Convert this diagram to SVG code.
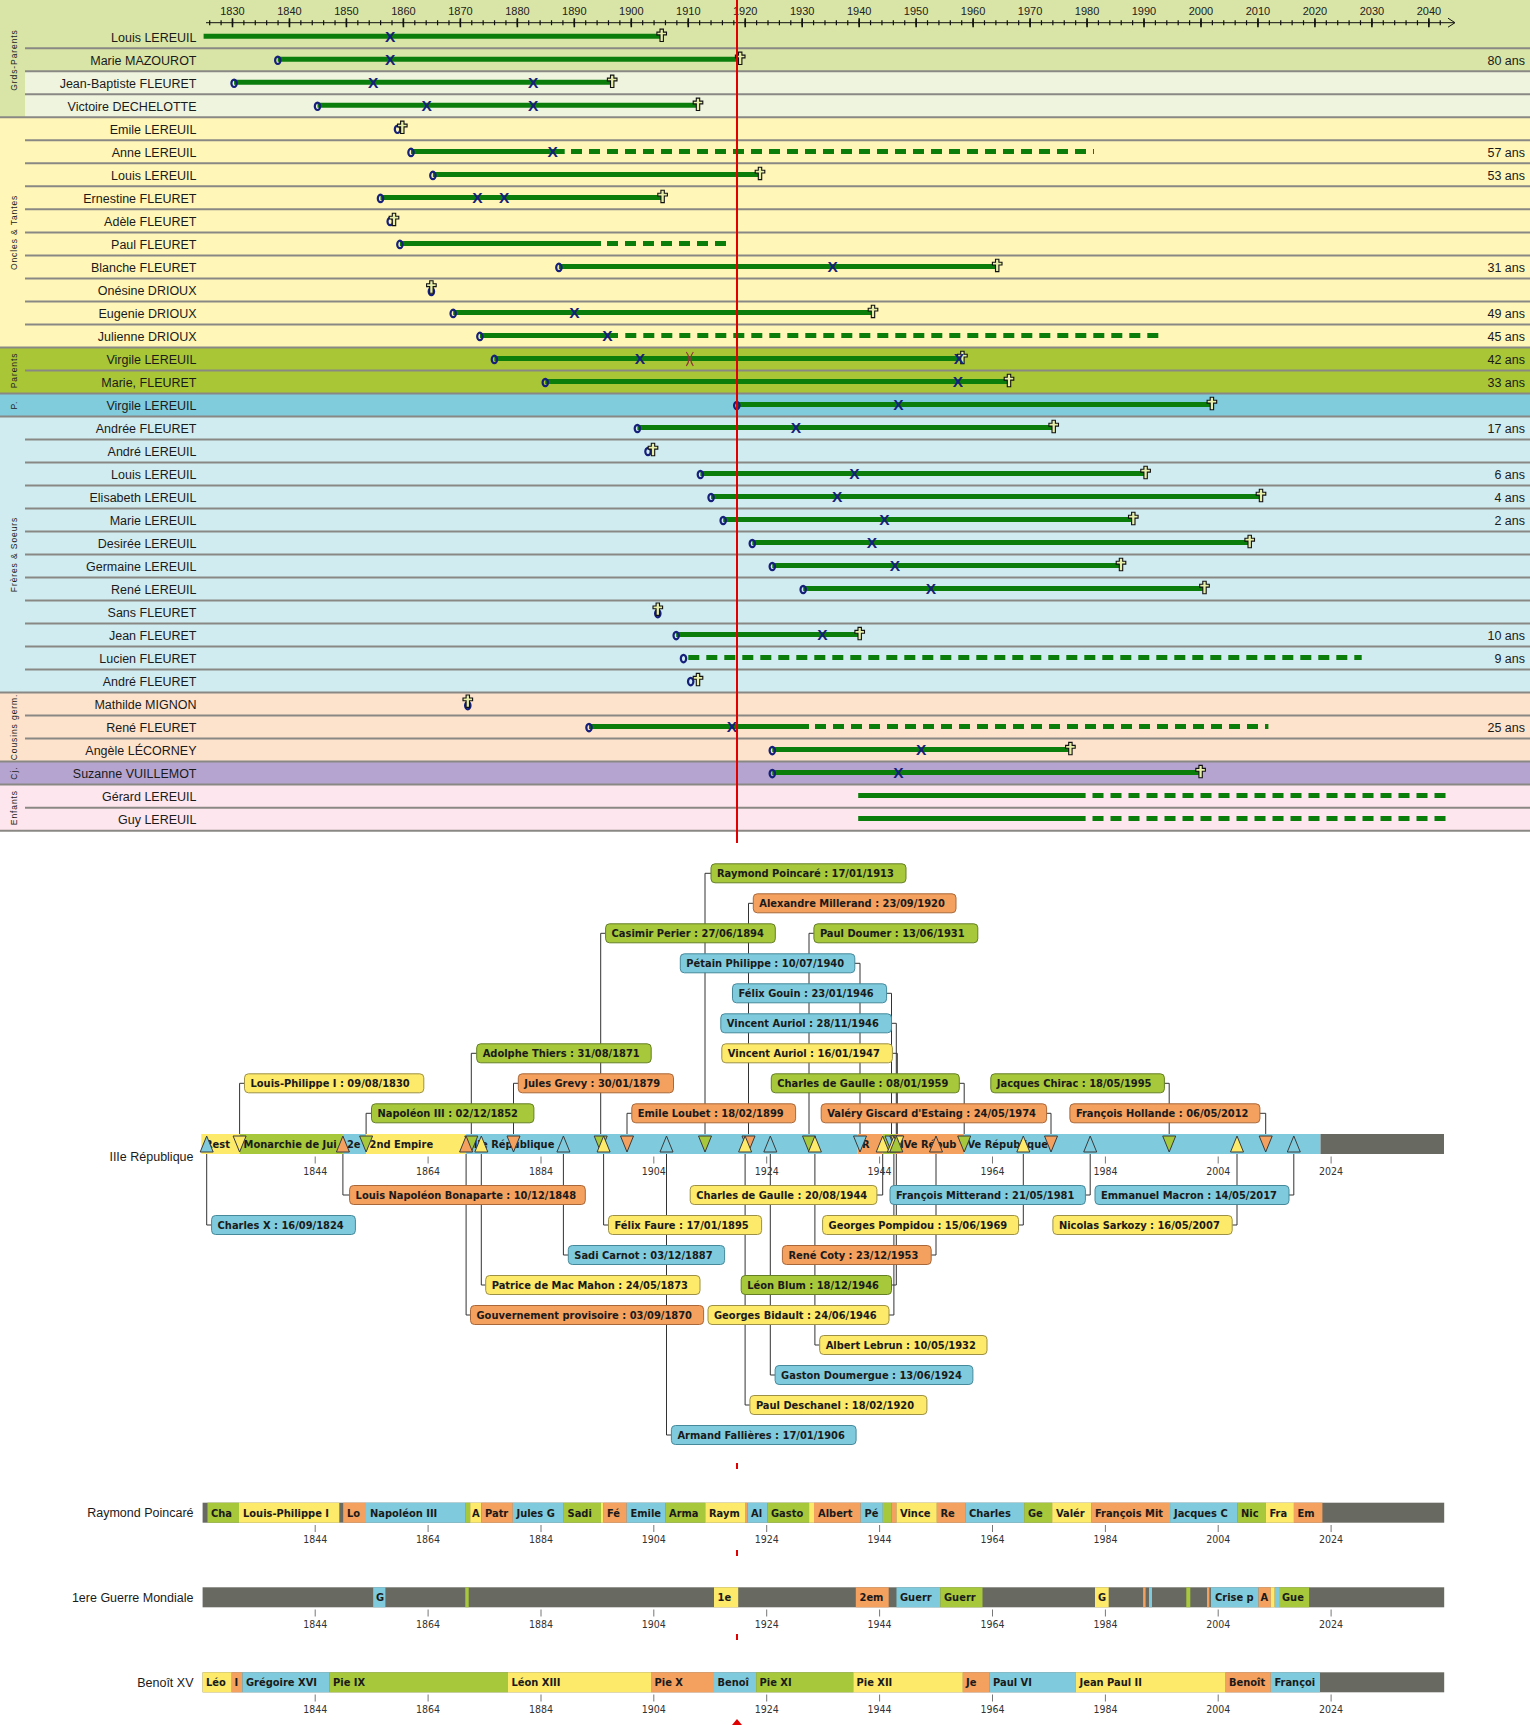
<svg xmlns="http://www.w3.org/2000/svg" width="1530" height="1725" viewBox="0 0 1530 1725">
<style>
.nm{font-family:"Liberation Sans",Arial,sans-serif;font-size:12.5px;fill:#1a1a1a;text-anchor:end}
.age{font-family:"Liberation Sans",Arial,sans-serif;font-size:12.5px;fill:#1a1a1a;text-anchor:end}
.cat{font-family:"Liberation Sans",Arial,sans-serif;font-size:8.5px;letter-spacing:0.9px;fill:#222;text-anchor:middle}
.yr{font-family:"Liberation Sans",Arial,sans-serif;font-size:11px;fill:#222;text-anchor:middle}
.xm{font-family:"Liberation Sans",Arial,sans-serif;font-size:15.5px;font-weight:bold;fill:#16207a;text-anchor:middle}
.bar{stroke:#0b7d0b;stroke-width:5;fill:none}
.dash{stroke:#0b7d0b;stroke-width:5;fill:none;stroke-dasharray:11 7}
.sep{stroke:#8a8884;stroke-width:2}
.bt{font-family:"DejaVu Sans Condensed","DejaVu Sans",sans-serif;font-stretch:condensed;font-weight:bold;font-size:11px;fill:#1a1a1a}
.tk{font-family:"DejaVu Sans Condensed","DejaVu Sans",sans-serif;font-stretch:condensed;font-size:10.5px;fill:#333;text-anchor:middle}
.tl{stroke:#777;stroke-width:1}
.lbl{font-family:"Liberation Sans",Arial,sans-serif;font-size:12.5px;fill:#1a1a1a;text-anchor:end}
.Y{fill:#fde96a}.G{fill:#a7c83b}.B{fill:#7fcbdd}.O{fill:#f4a05f}.K{fill:#686a62}
.by{fill:#fde96a;stroke:#9c9146}.bg{fill:#a7c83b;stroke:#647f25}.bb{fill:#7fcbdd;stroke:#45899b}.bo{fill:#f4a05f;stroke:#a9683a}
.box rect{stroke-width:1}
.con path{fill:none;stroke:#333;stroke-width:1}
.tri polygon{stroke:#3a3a3a;stroke-width:1}
</style>
<defs>
<path id="cross" d="M-1.7,-6.2 h3.4 v3 h3.1 v2.8 h-3.1 v6.6 h-3.4 v-6.6 h-3.1 v-2.8 h3.1 z" fill="#e6eea8" stroke="#111" stroke-width="1.1"/>
<ellipse id="birth" rx="2.7" ry="3.7" fill="none" stroke="#16207a" stroke-width="2.2"/>
</defs>

<!-- ===== Top family chart backgrounds ===== -->
<g id="backgrounds">
<rect x="0" y="0" width="1530" height="117.33" fill="#d8e5a6"/>
<rect x="25" y="71.31" width="1505" height="46.02" fill="#eff4df"/>
<rect x="0" y="117.33" width="1530" height="230.1" fill="#fff6b8"/>
<rect x="0" y="347.43" width="1530" height="46.02" fill="#a9c637"/>
<rect x="0" y="393.45" width="1530" height="23.01" fill="#80cbdc"/>
<rect x="0" y="416.46" width="1530" height="276.12" fill="#d1ecf1"/>
<rect x="0" y="692.58" width="1530" height="69.03" fill="#fde3cc"/>
<rect x="0" y="761.61" width="1530" height="23.01" fill="#b4a4cf"/>
<rect x="0" y="784.62" width="1530" height="46.02" fill="#fde6ee"/>
</g>
<g id="separators">
<line class="sep" x1="25" x2="1530" y1="48.3" y2="48.3"/>
<line class="sep" x1="25" x2="1530" y1="71.31" y2="71.31"/>
<line class="sep" x1="25" x2="1530" y1="94.32" y2="94.32"/>
<line class="sep" x1="0" x2="1530" y1="117.33" y2="117.33"/>
<line class="sep" x1="25" x2="1530" y1="140.34" y2="140.34"/>
<line class="sep" x1="25" x2="1530" y1="163.35" y2="163.35"/>
<line class="sep" x1="25" x2="1530" y1="186.36" y2="186.36"/>
<line class="sep" x1="25" x2="1530" y1="209.37" y2="209.37"/>
<line class="sep" x1="25" x2="1530" y1="232.38" y2="232.38"/>
<line class="sep" x1="25" x2="1530" y1="255.39" y2="255.39"/>
<line class="sep" x1="25" x2="1530" y1="278.4" y2="278.4"/>
<line class="sep" x1="25" x2="1530" y1="301.41" y2="301.41"/>
<line class="sep" x1="25" x2="1530" y1="324.42" y2="324.42"/>
<line class="sep" x1="0" x2="1530" y1="347.43" y2="347.43"/>
<line class="sep" x1="25" x2="1530" y1="370.44" y2="370.44"/>
<line class="sep" x1="0" x2="1530" y1="393.45" y2="393.45"/>
<line class="sep" x1="0" x2="1530" y1="416.46" y2="416.46"/>
<line class="sep" x1="25" x2="1530" y1="439.47" y2="439.47"/>
<line class="sep" x1="25" x2="1530" y1="462.48" y2="462.48"/>
<line class="sep" x1="25" x2="1530" y1="485.49" y2="485.49"/>
<line class="sep" x1="25" x2="1530" y1="508.5" y2="508.5"/>
<line class="sep" x1="25" x2="1530" y1="531.51" y2="531.51"/>
<line class="sep" x1="25" x2="1530" y1="554.52" y2="554.52"/>
<line class="sep" x1="25" x2="1530" y1="577.53" y2="577.53"/>
<line class="sep" x1="25" x2="1530" y1="600.54" y2="600.54"/>
<line class="sep" x1="25" x2="1530" y1="623.55" y2="623.55"/>
<line class="sep" x1="25" x2="1530" y1="646.56" y2="646.56"/>
<line class="sep" x1="25" x2="1530" y1="669.57" y2="669.57"/>
<line class="sep" x1="0" x2="1530" y1="692.58" y2="692.58"/>
<line class="sep" x1="25" x2="1530" y1="715.59" y2="715.59"/>
<line class="sep" x1="25" x2="1530" y1="738.6" y2="738.6"/>
<line class="sep" x1="0" x2="1530" y1="761.61" y2="761.61"/>
<line class="sep" x1="0" x2="1530" y1="784.62" y2="784.62"/>
<line class="sep" x1="25" x2="1530" y1="807.63" y2="807.63"/>
<line class="sep" x1="0" x2="1530" y1="830.64" y2="830.64"/>
</g>
<g id="categories">
<text class="cat" transform="translate(16.5,60) rotate(-90)">Grds-Parents</text>
<text class="cat" transform="translate(16.5,232.4) rotate(-90)">Oncles &amp; Tantes</text>
<text class="cat" transform="translate(16.5,370.4) rotate(-90)">Parents</text>
<text class="cat" transform="translate(16.5,405) rotate(-90)">P.</text>
<text class="cat" transform="translate(16.5,554.5) rotate(-90)">Frères &amp; Soeurs</text>
<text class="cat" transform="translate(16.5,727) rotate(-90)">Cousins germ.</text>
<text class="cat" transform="translate(16.5,773.1) rotate(-90)">Cj.</text>
<text class="cat" transform="translate(16.5,807.6) rotate(-90)">Enfants</text>
</g>

<!-- axis -->
<g id="axis">
<line x1="206" y1="22.7" x2="1454" y2="22.7" stroke="#111" stroke-width="1"/>
<line x1="209.1" y1="22.7" x2="1450" y2="22.7" stroke="#111" stroke-width="5" stroke-dasharray="1.2 10.194"/>
<line x1="231.7" y1="22.7" x2="1450" y2="22.7" stroke="#111" stroke-width="9" stroke-dasharray="1.6 55.37"/>
<path d="M1448,18.2 L1455,22.7 L1448,27.2" fill="none" stroke="#111" stroke-width="1"/>
<text class="yr" x="232.5" y="14.5">1830</text><text class="yr" x="289.5" y="14.5">1840</text><text class="yr" x="346.4" y="14.5">1850</text><text class="yr" x="403.4" y="14.5">1860</text><text class="yr" x="460.4" y="14.5">1870</text><text class="yr" x="517.4" y="14.5">1880</text><text class="yr" x="574.3" y="14.5">1890</text><text class="yr" x="631.3" y="14.5">1900</text><text class="yr" x="688.3" y="14.5">1910</text><text class="yr" x="745.2" y="14.5">1920</text><text class="yr" x="802.2" y="14.5">1930</text><text class="yr" x="859.2" y="14.5">1940</text><text class="yr" x="916.1" y="14.5">1950</text><text class="yr" x="973.1" y="14.5">1960</text><text class="yr" x="1030.1" y="14.5">1970</text><text class="yr" x="1087.1" y="14.5">1980</text><text class="yr" x="1144" y="14.5">1990</text><text class="yr" x="1201" y="14.5">2000</text><text class="yr" x="1258" y="14.5">2010</text><text class="yr" x="1314.9" y="14.5">2020</text><text class="yr" x="1371.9" y="14.5">2030</text><text class="yr" x="1428.9" y="14.5">2040</text>
</g>

<!-- rows -->
<g id="row-1"><text class="nm" x="196.5" y="41.8">Louis LEREUIL</text><line class="bar" x1="203.6" x2="661.7" y1="36.3" y2="36.3"/><text class="xm" x="390.2" y="41.8">X</text><use href="#cross" x="661.7" y="35.3"/></g>
<g id="row-2"><text class="nm" x="196.5" y="64.8">Marie MAZOUROT</text><line class="bar" x1="277.8" x2="740.2" y1="59.3" y2="59.3"/><use href="#birth" x="277.8" y="60.3"/><text class="xm" x="390.2" y="64.8">X</text><use href="#cross" x="740.2" y="58.3"/><text class="age" x="1525" y="64.8">80 ans</text></g>
<g id="row-3"><text class="nm" x="196.5" y="87.8">Jean-Baptiste FLEURET</text><line class="bar" x1="234.1" x2="612.2" y1="82.3" y2="82.3"/><use href="#birth" x="234.1" y="83.3"/><text class="xm" x="373.2" y="87.8">X</text><text class="xm" x="533.2" y="87.8">X</text><use href="#cross" x="612.2" y="81.3"/></g>
<g id="row-4"><text class="nm" x="196.5" y="110.8">Victoire DECHELOTTE</text><line class="bar" x1="317.5" x2="698" y1="105.3" y2="105.3"/><use href="#birth" x="317.5" y="106.3"/><text class="xm" x="426.6" y="110.8">X</text><text class="xm" x="533.2" y="110.8">X</text><use href="#cross" x="698" y="104.3"/></g>
<g id="row-5"><text class="nm" x="196.5" y="133.8">Emile LEREUIL</text><use href="#birth" x="397.5" y="129.3"/><use href="#cross" x="402.3" y="127.3"/></g>
<g id="row-6"><text class="nm" x="196.5" y="156.9">Anne LEREUIL</text><line class="bar" x1="411" x2="564.7" y1="151.4" y2="151.4"/><line class="dash" x1="571" x2="1094" y1="151.4" y2="151.4"/><use href="#birth" x="411" y="152.4"/><text class="xm" x="552.6" y="156.9">X</text><text class="age" x="1525" y="156.9">57 ans</text></g>
<g id="row-7"><text class="nm" x="196.5" y="179.9">Louis LEREUIL</text><line class="bar" x1="432.9" x2="760" y1="174.4" y2="174.4"/><use href="#birth" x="432.9" y="175.4"/><use href="#cross" x="760" y="173.4"/><text class="age" x="1525" y="179.9">53 ans</text></g>
<g id="row-8"><text class="nm" x="196.5" y="202.9">Ernestine FLEURET</text><line class="bar" x1="380.5" x2="662.6" y1="197.4" y2="197.4"/><use href="#birth" x="380.5" y="198.4"/><text class="xm" x="477.5" y="202.9">X</text><text class="xm" x="504.1" y="202.9">X</text><use href="#cross" x="662.6" y="196.4"/></g>
<g id="row-9"><text class="nm" x="196.5" y="225.9">Adèle FLEURET</text><use href="#birth" x="390.2" y="221.4"/><use href="#cross" x="394" y="219.4"/></g>
<g id="row-10"><text class="nm" x="196.5" y="248.9">Paul FLEURET</text><line class="bar" x1="399.9" x2="601" y1="243.4" y2="243.4"/><line class="dash" x1="607" x2="727" y1="243.4" y2="243.4"/><use href="#birth" x="399.9" y="244.4"/></g>
<g id="row-11"><text class="nm" x="196.5" y="271.9">Blanche FLEURET</text><line class="bar" x1="558.9" x2="997.2" y1="266.4" y2="266.4"/><use href="#birth" x="558.9" y="267.4"/><text class="xm" x="832.7" y="271.9">X</text><use href="#cross" x="997.2" y="265.4"/><text class="age" x="1525" y="271.9">31 ans</text></g>
<g id="row-12"><text class="nm" x="196.5" y="294.9">Onésine DRIOUX</text><use href="#birth" x="431.4" y="291.4"/><use href="#cross" x="431.4" y="287"/></g>
<g id="row-13"><text class="nm" x="196.5" y="317.9">Eugenie DRIOUX</text><line class="bar" x1="453.2" x2="873" y1="312.4" y2="312.4"/><use href="#birth" x="453.2" y="313.4"/><text class="xm" x="574.4" y="317.9">X</text><use href="#cross" x="873" y="311.4"/><text class="age" x="1525" y="317.9">49 ans</text></g>
<g id="row-14"><text class="nm" x="196.5" y="340.9">Julienne DRIOUX</text><line class="bar" x1="479.9" x2="618" y1="335.4" y2="335.4"/><line class="dash" x1="625.3" x2="1160.3" y1="335.4" y2="335.4"/><use href="#birth" x="479.9" y="336.4"/><text class="xm" x="607.4" y="340.9">X</text><text class="age" x="1525" y="340.9">45 ans</text></g>
<g id="row-15"><text class="nm" x="196.5" y="363.9">Virgile LEREUIL</text><line class="bar" x1="494.4" x2="962.4" y1="358.4" y2="358.4"/><use href="#birth" x="494.4" y="359.4"/><text class="xm" x="639.8" y="363.9">X</text><path d="M686.3,352 Q691.5,358.5 686.3,366 M693.3,352 Q688.1,358.5 693.3,366" fill="none" stroke="#8e3838" stroke-width="1.2"/><use href="#cross" x="962.4" y="357.4"/><text class="xm" x="959" y="363.9">X</text><text class="age" x="1525" y="363.9">42 ans</text></g>
<g id="row-16"><text class="nm" x="196.5" y="387">Marie, FLEURET</text><line class="bar" x1="545.3" x2="1009" y1="381.5" y2="381.5"/><use href="#birth" x="545.3" y="382.5"/><text class="xm" x="958" y="387">X</text><use href="#cross" x="1009" y="380.5"/><text class="age" x="1525" y="387">33 ans</text></g>
<g id="row-17"><text class="nm" x="196.5" y="410">Virgile LEREUIL</text><line class="bar" x1="736.8" x2="1211.9" y1="404.5" y2="404.5"/><use href="#birth" x="736.8" y="405.5"/><text class="xm" x="898.5" y="410">X</text><use href="#cross" x="1211.9" y="403.5"/></g>
<g id="row-18"><text class="nm" x="196.5" y="433">Andrée FLEURET</text><line class="bar" x1="637.4" x2="1053.7" y1="427.5" y2="427.5"/><use href="#birth" x="637.4" y="428.5"/><text class="xm" x="795.9" y="433">X</text><use href="#cross" x="1053.7" y="426.5"/><text class="age" x="1525" y="433">17 ans</text></g>
<g id="row-19"><text class="nm" x="196.5" y="456">André LEREUIL</text><use href="#birth" x="648" y="451.5"/><use href="#cross" x="653" y="449.5"/></g>
<g id="row-20"><text class="nm" x="196.5" y="479">Louis LEREUIL</text><line class="bar" x1="700.4" x2="1145.6" y1="473.5" y2="473.5"/><use href="#birth" x="700.4" y="474.5"/><text class="xm" x="854.3" y="479">X</text><use href="#cross" x="1145.6" y="472.5"/><text class="age" x="1525" y="479">6 ans</text></g>
<g id="row-21"><text class="nm" x="196.5" y="502">Elisabeth LEREUIL</text><line class="bar" x1="711.1" x2="1261" y1="496.5" y2="496.5"/><use href="#birth" x="711.1" y="497.5"/><text class="xm" x="837.1" y="502">X</text><use href="#cross" x="1261" y="495.5"/><text class="age" x="1525" y="502">4 ans</text></g>
<g id="row-22"><text class="nm" x="196.5" y="525">Marie LEREUIL</text><line class="bar" x1="723.2" x2="1133.3" y1="519.5" y2="519.5"/><use href="#birth" x="723.2" y="520.5"/><text class="xm" x="884.3" y="525">X</text><use href="#cross" x="1133.3" y="518.5"/><text class="age" x="1525" y="525">2 ans</text></g>
<g id="row-23"><text class="nm" x="196.5" y="548">Desirée LEREUIL</text><line class="bar" x1="752.3" x2="1249.7" y1="542.5" y2="542.5"/><use href="#birth" x="752.3" y="543.5"/><text class="xm" x="872" y="548">X</text><use href="#cross" x="1249.7" y="541.5"/></g>
<g id="row-24"><text class="nm" x="196.5" y="571">Germaine LEREUIL</text><line class="bar" x1="772.3" x2="1121" y1="565.5" y2="565.5"/><use href="#birth" x="772.3" y="566.5"/><text class="xm" x="895" y="571">X</text><use href="#cross" x="1121" y="564.5"/></g>
<g id="row-25"><text class="nm" x="196.5" y="594">René LEREUIL</text><line class="bar" x1="803.2" x2="1204.5" y1="588.5" y2="588.5"/><use href="#birth" x="803.2" y="589.5"/><text class="xm" x="930.9" y="594">X</text><use href="#cross" x="1204.5" y="587.5"/></g>
<g id="row-26"><text class="nm" x="196.5" y="617.1">Sans FLEURET</text><use href="#birth" x="657.8" y="613.6"/><use href="#cross" x="657.8" y="609.2"/></g>
<g id="row-27"><text class="nm" x="196.5" y="640.1">Jean FLEURET</text><line class="bar" x1="676.2" x2="859.7" y1="634.6" y2="634.6"/><use href="#birth" x="676.2" y="635.6"/><text class="xm" x="822.4" y="640.1">X</text><use href="#cross" x="859.7" y="633.6"/><text class="age" x="1525" y="640.1">10 ans</text></g>
<g id="row-28"><text class="nm" x="196.5" y="663.1">Lucien FLEURET</text><line class="dash" x1="688.3" x2="1361.7" y1="657.6" y2="657.6"/><use href="#birth" x="683.5" y="658.6"/><text class="age" x="1525" y="663.1">9 ans</text></g>
<g id="row-29"><text class="nm" x="196.5" y="686.1">André FLEURET</text><use href="#birth" x="690.7" y="681.6"/><use href="#cross" x="698" y="679.6"/></g>
<g id="row-30"><text class="nm" x="196.5" y="709.1">Mathilde MIGNON</text><use href="#birth" x="467.8" y="705.6"/><use href="#cross" x="467.8" y="701.2"/></g>
<g id="row-31"><text class="nm" x="196.5" y="732.1">René FLEURET</text><line class="bar" x1="589" x2="809" y1="726.6" y2="726.6"/><line class="dash" x1="815" x2="1268.4" y1="726.6" y2="726.6"/><use href="#birth" x="589" y="727.6"/><text class="xm" x="732" y="732.1">X</text><text class="age" x="1525" y="732.1">25 ans</text></g>
<g id="row-32"><text class="nm" x="196.5" y="755.1">Angèle LÉCORNEY</text><line class="bar" x1="772.3" x2="1070.4" y1="749.6" y2="749.6"/><use href="#birth" x="772.3" y="750.6"/><text class="xm" x="921.1" y="755.1">X</text><use href="#cross" x="1070.4" y="748.6"/></g>
<g id="row-33"><text class="nm" x="196.5" y="778.1">Suzanne VUILLEMOT</text><line class="bar" x1="772.3" x2="1200.6" y1="772.6" y2="772.6"/><use href="#birth" x="772.3" y="773.6"/><text class="xm" x="898.5" y="778.1">X</text><use href="#cross" x="1200.6" y="771.6"/></g>
<g id="row-34"><text class="nm" x="196.5" y="801.1">Gérard LEREUIL</text><line class="bar" x1="858.2" x2="1085.6" y1="795.6" y2="795.6"/><line class="dash" x1="1092.5" x2="1446.2" y1="795.6" y2="795.6"/></g>
<g id="row-35"><text class="nm" x="196.5" y="824.1">Guy LEREUIL</text><line class="bar" x1="858.2" x2="1085.6" y1="818.6" y2="818.6"/><line class="dash" x1="1092.5" x2="1446.2" y1="818.6" y2="818.6"/></g>

<line id="today" x1="737" y1="0" x2="737" y2="843" stroke="#e00000" stroke-width="2"/>

<!-- ===== IIIe République chart ===== -->
<g id="connectors" class="con">
<path d="M705,1134V873.3H711"/>
<path d="M748.5,1134V903.3H753.3"/>
<path d="M600.7,1134V933.3H605.6"/>
<path d="M809,1134V933.3H813.9"/>
<path d="M860,1134V963.3H854.8"/>
<path d="M891.5,1134V993.3H886.6"/>
<path d="M896.3,1134V1023.3H891.5"/>
<path d="M471.3,1134V1053.3H476.7"/>
<path d="M897.3,1134V1053.3H892.4"/>
<path d="M239.6,1134V1083.3H244.5"/>
<path d="M513.5,1134V1083.3H518.3"/>
<path d="M964.2,1134V1083.3H959.3"/>
<path d="M1169.2,1134V1083.3H1164.4"/>
<path d="M366.1,1134V1113.3H371.5"/>
<path d="M627,1134V1113.3H631.8"/>
<path d="M1051,1134V1113.3H1046.6"/>
<path d="M1265.7,1134V1113.3H1259.9"/>
<path d="M342.9,1154V1195H349.6"/>
<path d="M882.7,1154V1195H876.9"/>
<path d="M1090.2,1154V1195H1085.4"/>
<path d="M1293.8,1154V1195H1289"/>
<path d="M206.7,1154V1225H211.6"/>
<path d="M603.6,1154V1225H608.5"/>
<path d="M1023.3,1154V1225H1018.5"/>
<path d="M1237,1154V1225H1232.2"/>
<path d="M563.4,1154V1255H568.3"/>
<path d="M936,1154V1255H931.2"/>
<path d="M481.3,1154V1285H485.7"/>
<path d="M896.3,1154V1285H891.5"/>
<path d="M466.1,1154V1315H470.5"/>
<path d="M893.9,1154V1315H889"/>
<path d="M814.9,1154V1345H819.7"/>
<path d="M770.3,1154V1375H775.1"/>
<path d="M745.1,1154V1405H749.9"/>
<path d="M666.5,1154V1435H671.4"/>
</g>

<g id="band-iii">
<text class="lbl" x="193.5" y="1160.5">IIIe République</text>
<rect class="Y" x="201.3" y="1134" width="38.3" height="20"/>
<rect class="G" x="239.6" y="1134" width="103.3" height="20"/>
<rect class="B" x="342.9" y="1134" width="23.2" height="20"/>
<rect class="Y" x="366.1" y="1134" width="100" height="20"/>
<rect class="B" x="466.1" y="1134" width="391.5" height="20"/>
<rect class="O" x="857.6" y="1134" width="25.1" height="20"/>
<rect class="G" x="882.7" y="1134" width="13.3" height="20"/>
<rect class="O" x="896" y="1134" width="68.2" height="20"/>
<rect class="B" x="964.2" y="1134" width="356.3" height="20"/>
<rect class="K" x="1320.5" y="1134" width="123.5" height="20"/>
<text class="bt" x="205" y="1148">Rest</text>
<text class="bt" x="243.6" y="1148">Monarchie de Jui</text>
<text class="bt" x="346.9" y="1148">2e</text>
<text class="bt" x="369.5" y="1148">2nd Empire</text>
<text class="bt" x="470" y="1148">IIIe République</text>
<text class="bt" x="862" y="1148">R</text>
<text class="bt" x="900" y="1148">IVe Répub</text>
<text class="bt" x="967.5" y="1148">Ve République</text>
</g>
<g id="triangles" class="tri">
<polygon class="Y" points="233.1,1136 246.1,1136 239.6,1152"/>
<polygon class="G" points="359.6,1136 372.6,1136 366.1,1152"/>
<polygon class="G" points="464.8,1136 477.8,1136 471.3,1152"/>
<polygon class="O" points="507,1136 520,1136 513.5,1152"/>
<polygon class="G" points="594.2,1136 607.2,1136 600.7,1152"/>
<polygon class="O" points="620.5,1136 633.5,1136 627,1152"/>
<polygon class="G" points="698.5,1136 711.5,1136 705,1152"/>
<polygon class="O" points="742,1136 755,1136 748.5,1152"/>
<polygon class="G" points="802.5,1136 815.5,1136 809,1152"/>
<polygon class="B" points="853.5,1136 866.5,1136 860,1152"/>
<polygon class="B" points="885,1136 898,1136 891.5,1152"/>
<polygon class="B" points="889.8,1136 902.8,1136 896.3,1152"/>
<polygon class="Y" points="890.8,1136 903.8,1136 897.3,1152"/>
<polygon class="G" points="957.7,1136 970.7,1136 964.2,1152"/>
<polygon class="O" points="1044.5,1136 1057.5,1136 1051,1152"/>
<polygon class="G" points="1162.7,1136 1175.7,1136 1169.2,1152"/>
<polygon class="O" points="1259.2,1136 1272.2,1136 1265.7,1152"/>
<polygon class="B" points="200.2,1152 213.2,1152 206.7,1136"/>
<polygon class="O" points="336.4,1152 349.4,1152 342.9,1136"/>
<polygon class="O" points="459.6,1152 472.6,1152 466.1,1136"/>
<polygon class="Y" points="474.8,1152 487.8,1152 481.3,1136"/>
<polygon class="B" points="556.9,1152 569.9,1152 563.4,1136"/>
<polygon class="Y" points="597.1,1152 610.1,1152 603.6,1136"/>
<polygon class="B" points="660,1152 673,1152 666.5,1136"/>
<polygon class="Y" points="738.6,1152 751.6,1152 745.1,1136"/>
<polygon class="B" points="763.8,1152 776.8,1152 770.3,1136"/>
<polygon class="Y" points="808.4,1152 821.4,1152 814.9,1136"/>
<polygon class="Y" points="876.2,1152 889.2,1152 882.7,1136"/>
<polygon class="Y" points="887.4,1152 900.4,1152 893.9,1136"/>
<polygon class="G" points="889.8,1152 902.8,1152 896.3,1136"/>
<polygon class="O" points="929.5,1152 942.5,1152 936,1136"/>
<polygon class="Y" points="1016.8,1152 1029.8,1152 1023.3,1136"/>
<polygon class="B" points="1083.7,1152 1096.7,1152 1090.2,1136"/>
<polygon class="Y" points="1230.5,1152 1243.5,1152 1237,1136"/>
<polygon class="B" points="1287.3,1152 1300.3,1152 1293.8,1136"/>
</g>
<g id="ticks-iii">
<path class="tl" d="M315.2,1156.5v7M428.1,1156.5v7M541,1156.5v7M653.8,1156.5v7M766.7,1156.5v7M879.6,1156.5v7M992.5,1156.5v7M1105.4,1156.5v7M1218.2,1156.5v7M1331.1,1156.5v7"/>
<text class="tk" x="315.2" y="1175">1844</text><text class="tk" x="428.1" y="1175">1864</text><text class="tk" x="541" y="1175">1884</text><text class="tk" x="653.8" y="1175">1904</text><text class="tk" x="766.7" y="1175">1924</text><text class="tk" x="879.6" y="1175">1944</text><text class="tk" x="992.5" y="1175">1964</text><text class="tk" x="1105.4" y="1175">1984</text><text class="tk" x="1218.2" y="1175">2004</text><text class="tk" x="1331.1" y="1175">2024</text>
</g>

<g id="labels" class="box">
<g id="p-poincare"><rect class="bg" x="711" y="863.8" width="195" height="19" rx="4"/><text class="bt" x="717" y="877.3">Raymond Poincaré : 17/01/1913</text></g>
<g id="p-millerand"><rect class="bo" x="753.3" y="893.8" width="202.7" height="19" rx="4"/><text class="bt" x="759.3" y="907.3">Alexandre Millerand : 23/09/1920</text></g>
<g id="p-perier"><rect class="bg" x="605.6" y="923.8" width="169.7" height="19" rx="4"/><text class="bt" x="611.6" y="937.3">Casimir Perier : 27/06/1894</text></g>
<g id="p-doumer"><rect class="bg" x="813.9" y="923.8" width="163.9" height="19" rx="4"/><text class="bt" x="819.9" y="937.3">Paul Doumer : 13/06/1931</text></g>
<g id="p-petain"><rect class="bb" x="680.3" y="953.8" width="174.5" height="19" rx="4"/><text class="bt" x="686.3" y="967.3">Pétain Philippe : 10/07/1940</text></g>
<g id="p-gouin"><rect class="bb" x="732.5" y="983.8" width="154.1" height="19" rx="4"/><text class="bt" x="738.5" y="997.3">Félix Gouin : 23/01/1946</text></g>
<g id="p-auriol1"><rect class="bb" x="720.8" y="1013.8" width="170.7" height="19" rx="4"/><text class="bt" x="726.8" y="1027.3">Vincent Auriol : 28/11/1946</text></g>
<g id="p-thiers"><rect class="bg" x="476.7" y="1043.8" width="174.5" height="19" rx="4"/><text class="bt" x="482.7" y="1057.3">Adolphe Thiers : 31/08/1871</text></g>
<g id="p-auriol2"><rect class="by" x="721.8" y="1043.8" width="170.6" height="19" rx="4"/><text class="bt" x="727.8" y="1057.3">Vincent Auriol : 16/01/1947</text></g>
<g id="p-louisphilippe"><rect class="by" x="244.5" y="1073.8" width="179.3" height="19" rx="4"/><text class="bt" x="250.5" y="1087.3">Louis-Philippe I : 09/08/1830</text></g>
<g id="p-grevy"><rect class="bo" x="518.3" y="1073.8" width="155.2" height="19" rx="4"/><text class="bt" x="524.3" y="1087.3">Jules Grevy : 30/01/1879</text></g>
<g id="p-degaulle2"><rect class="bg" x="771.3" y="1073.8" width="188" height="19" rx="4"/><text class="bt" x="777.3" y="1087.3">Charles de Gaulle : 08/01/1959</text></g>
<g id="p-chirac"><rect class="bg" x="990.8" y="1073.8" width="173.6" height="19" rx="4"/><text class="bt" x="996.8" y="1087.3">Jacques Chirac : 18/05/1995</text></g>
<g id="p-napoleon3"><rect class="bg" x="371.5" y="1103.8" width="162.4" height="19" rx="4"/><text class="bt" x="377.5" y="1117.3">Napoléon III : 02/12/1852</text></g>
<g id="p-loubet"><rect class="bo" x="631.8" y="1103.8" width="163.8" height="19" rx="4"/><text class="bt" x="637.8" y="1117.3">Emile Loubet : 18/02/1899</text></g>
<g id="p-giscard"><rect class="bo" x="821.2" y="1103.8" width="225.4" height="19" rx="4"/><text class="bt" x="827.2" y="1117.3">Valéry Giscard d'Estaing : 24/05/1974</text></g>
<g id="p-hollande"><rect class="bo" x="1069.9" y="1103.8" width="190" height="19" rx="4"/><text class="bt" x="1075.9" y="1117.3">François Hollande : 06/05/2012</text></g>
<g id="p-lnb"><rect class="bo" x="349.6" y="1185.5" width="235.7" height="19" rx="4"/><text class="bt" x="355.6" y="1199">Louis Napoléon Bonaparte : 10/12/1848</text></g>
<g id="p-degaulle1"><rect class="by" x="690.2" y="1185.5" width="186.7" height="19" rx="4"/><text class="bt" x="696.2" y="1199">Charles de Gaulle : 20/08/1944</text></g>
<g id="p-mitterand"><rect class="bb" x="890" y="1185.5" width="195.4" height="19" rx="4"/><text class="bt" x="896" y="1199">François Mitterand : 21/05/1981</text></g>
<g id="p-macron"><rect class="bb" x="1095" y="1185.5" width="194" height="19" rx="4"/><text class="bt" x="1101" y="1199">Emmanuel Macron : 14/05/2017</text></g>
<g id="p-charlesx"><rect class="bb" x="211.6" y="1215.5" width="143.8" height="19" rx="4"/><text class="bt" x="217.6" y="1229">Charles X : 16/09/1824</text></g>
<g id="p-faure"><rect class="by" x="608.5" y="1215.5" width="153.1" height="19" rx="4"/><text class="bt" x="614.5" y="1229">Félix Faure : 17/01/1895</text></g>
<g id="p-pompidou"><rect class="by" x="822.6" y="1215.5" width="195.9" height="19" rx="4"/><text class="bt" x="828.6" y="1229">Georges Pompidou : 15/06/1969</text></g>
<g id="p-sarkozy"><rect class="by" x="1052.9" y="1215.5" width="179.3" height="19" rx="4"/><text class="bt" x="1058.9" y="1229">Nicolas Sarkozy : 16/05/2007</text></g>
<g id="p-carnot"><rect class="bb" x="568.3" y="1245.5" width="156.3" height="19" rx="4"/><text class="bt" x="574.3" y="1259">Sadi Carnot : 03/12/1887</text></g>
<g id="p-coty"><rect class="bo" x="782.4" y="1245.5" width="148.8" height="19" rx="4"/><text class="bt" x="788.4" y="1259">René Coty : 23/12/1953</text></g>
<g id="p-macmahon"><rect class="by" x="485.7" y="1275.5" width="214.3" height="19" rx="4"/><text class="bt" x="491.7" y="1289">Patrice de Mac Mahon : 24/05/1873</text></g>
<g id="p-blum"><rect class="bg" x="741.2" y="1275.5" width="150.3" height="19" rx="4"/><text class="bt" x="747.2" y="1289">Léon Blum : 18/12/1946</text></g>
<g id="p-gouvprov"><rect class="bo" x="470.5" y="1305.5" width="233.1" height="19" rx="4"/><text class="bt" x="476.5" y="1319">Gouvernement provisoire : 03/09/1870</text></g>
<g id="p-bidault"><rect class="by" x="708" y="1305.5" width="181" height="19" rx="4"/><text class="bt" x="714" y="1319">Georges Bidault : 24/06/1946</text></g>
<g id="p-lebrun"><rect class="by" x="819.7" y="1335.5" width="167.3" height="19" rx="4"/><text class="bt" x="825.7" y="1349">Albert Lebrun : 10/05/1932</text></g>
<g id="p-doumergue"><rect class="bb" x="775.1" y="1365.5" width="197.8" height="19" rx="4"/><text class="bt" x="781.1" y="1379">Gaston Doumergue : 13/06/1924</text></g>
<g id="p-deschanel"><rect class="by" x="749.9" y="1395.5" width="177" height="19" rx="4"/><text class="bt" x="755.9" y="1409">Paul Deschanel : 18/02/1920</text></g>
<g id="p-fallieres"><rect class="bb" x="671.4" y="1425.5" width="184.7" height="19" rx="4"/><text class="bt" x="677.4" y="1439">Armand Fallières : 17/01/1906</text></g>
</g>

<!-- ===== Bottom bands ===== -->
<g id="band-presidents">
<text class="lbl" x="193.5" y="1517">Raymond Poincaré</text>
<rect class="K" x="202.6" y="1502.7" width="1241.6" height="20"/>
<rect class="G" x="207.5" y="1502.7" width="31.5" height="20"/>
<rect class="Y" x="239" y="1502.7" width="100.3" height="20"/>
<rect class="O" x="343.2" y="1502.7" width="22.8" height="20"/>
<rect class="B" x="366" y="1502.7" width="99.3" height="20"/>
<rect class="G" x="465.3" y="1502.7" width="4.9" height="20"/>
<rect class="Y" x="470.2" y="1502.7" width="11.1" height="20"/>
<rect class="O" x="481.3" y="1502.7" width="31.5" height="20"/>
<rect class="B" x="512.8" y="1502.7" width="50.9" height="20"/>
<rect class="G" x="563.7" y="1502.7" width="37.3" height="20"/>
<rect class="Y" x="601" y="1502.7" width="2.5" height="20"/>
<rect class="O" x="603.5" y="1502.7" width="23.2" height="20"/>
<rect class="B" x="626.7" y="1502.7" width="38.8" height="20"/>
<rect class="G" x="665.5" y="1502.7" width="39.8" height="20"/>
<rect class="Y" x="705.3" y="1502.7" width="39.7" height="20"/>
<rect class="O" x="745" y="1502.7" width="2.4" height="20"/>
<rect class="B" x="747.4" y="1502.7" width="20" height="20"/>
<rect class="G" x="767.4" y="1502.7" width="41.7" height="20"/>
<rect class="Y" x="809.1" y="1502.7" width="4.9" height="20"/>
<rect class="O" x="814" y="1502.7" width="46.7" height="20"/>
<rect class="B" x="860.7" y="1502.7" width="22.1" height="20"/>
<rect class="G" x="882.8" y="1502.7" width="8.8" height="20"/>
<rect class="O" x="891.6" y="1502.7" width="4.9" height="20"/>
<rect class="Y" x="896.5" y="1502.7" width="40.3" height="20"/>
<rect class="O" x="936.8" y="1502.7" width="28.5" height="20"/>
<rect class="B" x="965.3" y="1502.7" width="58.9" height="20"/>
<rect class="G" x="1024.2" y="1502.7" width="28" height="20"/>
<rect class="Y" x="1052.2" y="1502.7" width="39.3" height="20"/>
<rect class="O" x="1091.5" y="1502.7" width="78.6" height="20"/>
<rect class="B" x="1170.1" y="1502.7" width="67.3" height="20"/>
<rect class="G" x="1237.4" y="1502.7" width="28.5" height="20"/>
<rect class="Y" x="1265.9" y="1502.7" width="28" height="20"/>
<rect class="O" x="1293.9" y="1502.7" width="28.5" height="20"/>
<text class="bt" x="211" y="1516.7">Cha</text>
<text class="bt" x="243" y="1516.7">Louis-Philippe I</text>
<text class="bt" x="347" y="1516.7">Lo</text>
<text class="bt" x="370" y="1516.7">Napoléon III</text>
<text class="bt" x="472" y="1516.7">A</text>
<text class="bt" x="485" y="1516.7">Patr</text>
<text class="bt" x="516.5" y="1516.7">Jules G</text>
<text class="bt" x="567.5" y="1516.7">Sadi</text>
<text class="bt" x="607" y="1516.7">Fé</text>
<text class="bt" x="630.5" y="1516.7">Emile</text>
<text class="bt" x="669" y="1516.7">Arma</text>
<text class="bt" x="709" y="1516.7">Raym</text>
<text class="bt" x="751" y="1516.7">Al</text>
<text class="bt" x="771" y="1516.7">Gasto</text>
<text class="bt" x="818" y="1516.7">Albert</text>
<text class="bt" x="864.5" y="1516.7">Pé</text>
<text class="bt" x="900" y="1516.7">Vince</text>
<text class="bt" x="940.5" y="1516.7">Re</text>
<text class="bt" x="969" y="1516.7">Charles</text>
<text class="bt" x="1028" y="1516.7">Ge</text>
<text class="bt" x="1056" y="1516.7">Valér</text>
<text class="bt" x="1095" y="1516.7">François Mit</text>
<text class="bt" x="1174" y="1516.7">Jacques C</text>
<text class="bt" x="1241" y="1516.7">Nic</text>
<text class="bt" x="1269.5" y="1516.7">Fra</text>
<text class="bt" x="1297.5" y="1516.7">Em</text>
<path class="tl" d="M315.2,1525v7M428.1,1525v7M541,1525v7M653.8,1525v7M766.7,1525v7M879.6,1525v7M992.5,1525v7M1105.4,1525v7M1218.2,1525v7M1331.1,1525v7"/>
<text class="tk" x="315.2" y="1543">1844</text><text class="tk" x="428.1" y="1543">1864</text><text class="tk" x="541" y="1543">1884</text><text class="tk" x="653.8" y="1543">1904</text><text class="tk" x="766.7" y="1543">1924</text><text class="tk" x="879.6" y="1543">1944</text><text class="tk" x="992.5" y="1543">1964</text><text class="tk" x="1105.4" y="1543">1984</text><text class="tk" x="1218.2" y="1543">2004</text><text class="tk" x="1331.1" y="1543">2024</text>
</g>

<g id="band-wars">
<text class="lbl" x="193.5" y="1602">1ere Guerre Mondiale</text>
<rect class="K" x="202.6" y="1587.3" width="1241.6" height="20"/>
<rect class="B" x="373.2" y="1587.3" width="12.2" height="20"/>
<rect class="G" x="465.3" y="1587.3" width="3.4" height="20"/>
<rect class="Y" x="714" y="1587.3" width="24.2" height="20"/>
<rect class="O" x="855.8" y="1587.3" width="32.9" height="20"/>
<rect class="B" x="896.5" y="1587.3" width="43.8" height="20"/>
<rect class="G" x="940.3" y="1587.3" width="42.2" height="20"/>
<rect class="Y" x="1095" y="1587.3" width="13.7" height="20"/>
<rect class="O" x="1143.1" y="1587.3" width="2.5" height="20"/>
<rect class="B" x="1149" y="1587.3" width="3" height="20"/>
<rect class="G" x="1186.3" y="1587.3" width="4" height="20"/>
<rect class="O" x="1207" y="1587.3" width="2.4" height="20"/>
<rect class="B" x="1210.9" y="1587.3" width="47.6" height="20"/>
<rect class="O" x="1258.5" y="1587.3" width="12.3" height="20"/>
<rect class="Y" x="1270.8" y="1587.3" width="3.9" height="20"/>
<rect class="B" x="1275" y="1587.3" width="4" height="20"/>
<rect class="G" x="1279" y="1587.3" width="30.1" height="20"/>
<text class="bt" x="376" y="1601.3">G</text>
<text class="bt" x="717.5" y="1601.3">1e</text>
<text class="bt" x="859.5" y="1601.3">2em</text>
<text class="bt" x="900" y="1601.3">Guerr</text>
<text class="bt" x="944" y="1601.3">Guerr</text>
<text class="bt" x="1098" y="1601.3">G</text>
<text class="bt" x="1215" y="1601.3">Crise p</text>
<text class="bt" x="1260.5" y="1601.3">A</text>
<text class="bt" x="1282" y="1601.3">Gue</text>
<path class="tl" d="M315.2,1609.5v7M428.1,1609.5v7M541,1609.5v7M653.8,1609.5v7M766.7,1609.5v7M879.6,1609.5v7M992.5,1609.5v7M1105.4,1609.5v7M1218.2,1609.5v7M1331.1,1609.5v7"/>
<text class="tk" x="315.2" y="1628">1844</text><text class="tk" x="428.1" y="1628">1864</text><text class="tk" x="541" y="1628">1884</text><text class="tk" x="653.8" y="1628">1904</text><text class="tk" x="766.7" y="1628">1924</text><text class="tk" x="879.6" y="1628">1944</text><text class="tk" x="992.5" y="1628">1964</text><text class="tk" x="1105.4" y="1628">1984</text><text class="tk" x="1218.2" y="1628">2004</text><text class="tk" x="1331.1" y="1628">2024</text>
</g>

<g id="band-popes">
<text class="lbl" x="193.5" y="1687">Benoît XV</text>
<rect class="K" x="202.6" y="1672.3" width="1241.6" height="20"/>
<rect class="Y" x="202.6" y="1672.3" width="29.1" height="20"/>
<rect class="O" x="231.7" y="1672.3" width="10.7" height="20"/>
<rect class="B" x="242.4" y="1672.3" width="87.2" height="20"/>
<rect class="G" x="329.6" y="1672.3" width="178.4" height="20"/>
<rect class="Y" x="508" y="1672.3" width="143" height="20"/>
<rect class="O" x="651" y="1672.3" width="63" height="20"/>
<rect class="B" x="714" y="1672.3" width="42.2" height="20"/>
<rect class="G" x="756.2" y="1672.3" width="97.1" height="20"/>
<rect class="Y" x="853.3" y="1672.3" width="109.5" height="20"/>
<rect class="O" x="962.8" y="1672.3" width="26.6" height="20"/>
<rect class="B" x="989.4" y="1672.3" width="86.4" height="20"/>
<rect class="Y" x="1075.8" y="1672.3" width="149.8" height="20"/>
<rect class="O" x="1225.6" y="1672.3" width="45.2" height="20"/>
<rect class="B" x="1270.8" y="1672.3" width="49.2" height="20"/>
<text class="bt" x="206" y="1686.3">Léo</text>
<text class="bt" x="234.5" y="1686.3">I</text>
<text class="bt" x="246" y="1686.3">Grégoire XVI</text>
<text class="bt" x="333" y="1686.3">Pie IX</text>
<text class="bt" x="511.5" y="1686.3">Léon XIII</text>
<text class="bt" x="654.5" y="1686.3">Pie X</text>
<text class="bt" x="717.5" y="1686.3">Benoî</text>
<text class="bt" x="759.5" y="1686.3">Pie XI</text>
<text class="bt" x="856.5" y="1686.3">Pie XII</text>
<text class="bt" x="966" y="1686.3">Je</text>
<text class="bt" x="993" y="1686.3">Paul VI</text>
<text class="bt" x="1079.5" y="1686.3">Jean Paul II</text>
<text class="bt" x="1229" y="1686.3">Benoît</text>
<text class="bt" x="1274.5" y="1686.3">Françoi</text>
<path class="tl" d="M315.2,1694.5v7M428.1,1694.5v7M541,1694.5v7M653.8,1694.5v7M766.7,1694.5v7M879.6,1694.5v7M992.5,1694.5v7M1105.4,1694.5v7M1218.2,1694.5v7M1331.1,1694.5v7"/>
<text class="tk" x="315.2" y="1713">1844</text><text class="tk" x="428.1" y="1713">1864</text><text class="tk" x="541" y="1713">1884</text><text class="tk" x="653.8" y="1713">1904</text><text class="tk" x="766.7" y="1713">1924</text><text class="tk" x="879.6" y="1713">1944</text><text class="tk" x="992.5" y="1713">1964</text><text class="tk" x="1105.4" y="1713">1984</text><text class="tk" x="1218.2" y="1713">2004</text><text class="tk" x="1331.1" y="1713">2024</text>
</g>

<g id="today-marks" fill="#e00000">
<rect x="736" y="1463" width="2" height="6"/>
<rect x="736" y="1550" width="2" height="6"/>
<rect x="736" y="1634" width="2" height="6"/>
<polygon points="737,1719 742,1725 732,1725"/>
</g>
</svg>
